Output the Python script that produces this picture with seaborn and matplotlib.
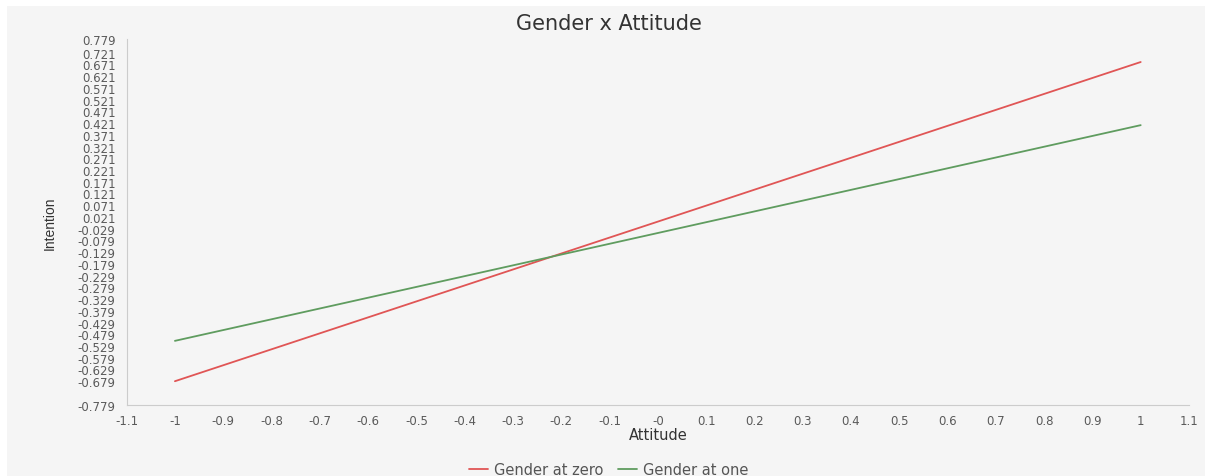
import numpy as np
import pandas as pd
import matplotlib
matplotlib.use("Agg")
import matplotlib.pyplot as plt
import seaborn as sns

#%% Data

attitude = [-1, 1]
gender_zero = [-0.679, 0.681]
gender_one = [-0.507, 0.412]
series_names = ["Gender at zero", "Gender at one"]

x_ticks = [-1.1, -1, -0.9, -0.8, -0.7, -0.6, -0.5, -0.4, -0.3, -0.2, -0.1, 0,
           0.1, 0.2, 0.3, 0.4, 0.5, 0.6, 0.7, 0.8, 0.9, 1, 1.1]
x_labels = ["-1.1", "-1", "-0.9", "-0.8", "-0.7", "-0.6", "-0.5", "-0.4", "-0.3",
            "-0.2", "-0.1", "-0", "0.1", "0.2", "0.3", "0.4", "0.5", "0.6", "0.7",
            "0.8", "0.9", "1", "1.1"]
y_min, y_max = -0.779, 0.779

df = pd.DataFrame({
    "Attitude": attitude * 2,
    "Intention": gender_zero + gender_one,
    "series": [series_names[0]] * 2 + [series_names[1]] * 2,
})

#%% Plot

sns.set_style("white")
plt.rcParams['font.family'] = ['DejaVu Sans']
bg = "#f5f5f5"
grey = "#5a5a5a"

fig = plt.figure(figsize=(12.05, 4.77), dpi=100)
fig.patch.set_facecolor(bg)
# white strips at top and left of the screenshot
fig.add_artist(plt.Rectangle((0, 1 - 7 / 477), 1, 7 / 477, transform=fig.transFigure,
                             facecolor="white", edgecolor="none", zorder=-10))
fig.add_artist(plt.Rectangle((0, 0), 7 / 1205, 1, transform=fig.transFigure,
                             facecolor="white", edgecolor="none", zorder=-10))
ax = fig.add_axes([0.1051, 0.1495, 0.8816, 0.7666])
ax.set_zorder(1)
ax.set_facecolor(bg)

sns.lineplot(data=df, x="Attitude", y="Intention", hue="series",
             palette=["#e05555", "#5f9c5f"], linewidth=1.3, ax=ax, legend=True)

ax.set_xlim(-1.1, 1.1)
ax.set_ylim(y_min, y_max)
ax.set_xticks(x_ticks)
ax.set_xticklabels(x_labels)

y_ticks = list(np.round(np.arange(-0.779, 0.75, 0.05), 3)) + [0.779]
y_labels = ["" if abs(t + 0.729) < 1e-6 else f"{t:.3f}" for t in y_ticks]
ax.set_yticks(y_ticks)
ax.set_yticklabels(y_labels)

for s in ["top", "right"]:
    ax.spines[s].set_visible(False)
for s in ["left", "bottom"]:
    ax.spines[s].set_color("#cccccc")
    ax.spines[s].set_linewidth(0.8)
ax.tick_params(axis="both", length=5, width=0.8, color="#cccccc",
               labelsize=8.5, labelcolor=grey)
ax.tick_params(axis="x", pad=2)
ax.tick_params(axis="y", pad=3)

ax.set_xlabel("Attitude", fontsize=10.5, color="#333333", labelpad=0)
ax.set_ylabel("Intention", fontsize=10, color="#333333", labelpad=15,
              fontfamily="Liberation Sans")
fig.suptitle("Gender x Attitude", x=0.505, y=0.97, va="top", fontsize=15, color="#333333")

handles, labels = ax.get_legend_handles_labels()
ax.get_legend().remove()
fig.legend(handles, labels, loc="lower center", bbox_to_anchor=(0.505, -0.03), ncol=2,
           frameon=False, fontsize=10.5, handlelength=1.3, columnspacing=1.0,
           handletextpad=0.4, labelcolor="#555555")

fig.savefig("out.png", dpi=100, facecolor=fig.get_facecolor())
